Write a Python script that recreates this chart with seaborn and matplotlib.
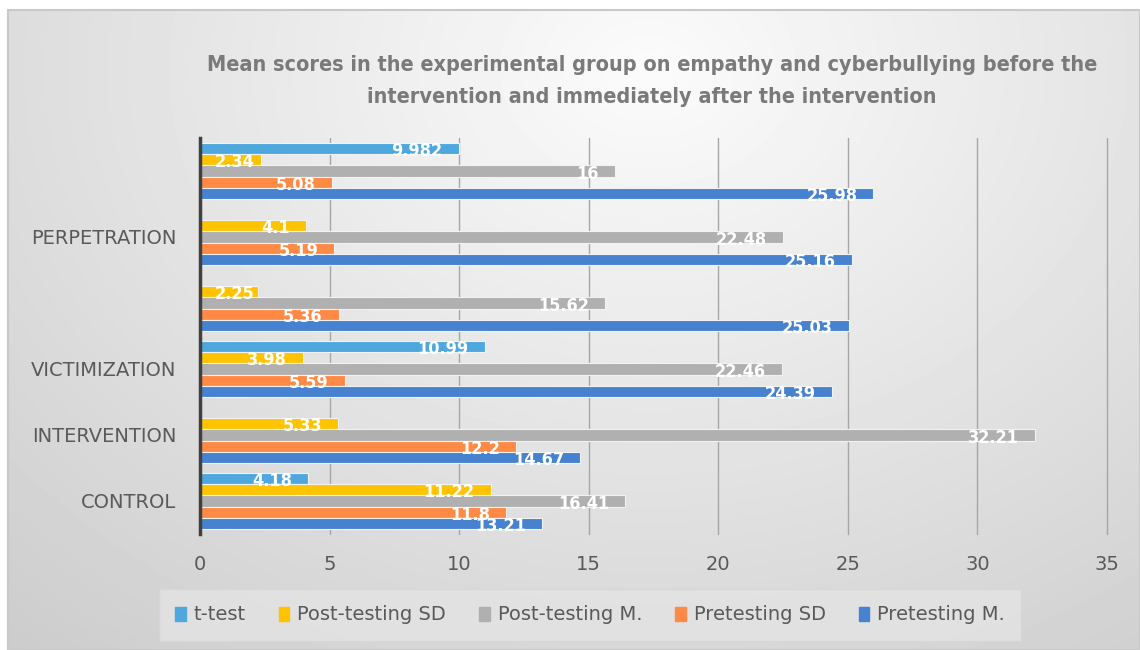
# Mean scores chart - horizontal grouped bars
import numpy as np
import pandas as pd
import seaborn as sns
import matplotlib.pyplot as plt

# Data (groups listed top to bottom)
groups = ['', 'PERPETRATION', ' ', 'VICTIMIZATION', 'INTERVENTION', 'CONTROL']
series = ['t-test', 'Post-testing SD', 'Post-testing M.', 'Pretesting SD', 'Pretesting M.']
t_test = [9.982, np.nan, np.nan, 10.99, np.nan, 4.18]
post_sd = [2.34, 4.1, 2.25, 3.98, 5.33, 11.22]
post_m = [16, 22.48, 15.62, 22.46, 32.21, 16.41]
pre_sd = [5.08, 5.19, 5.36, 5.59, 12.2, 11.8]
pre_m = [25.98, 25.16, 25.03, 24.39, 14.67, 13.21]
colors = ['#4ea8de', '#ffc300', '#b0b0b0', '#ff8a45', '#4682d0']

rows = []
for name, vals in zip(series, [t_test, post_sd, post_m, pre_sd, pre_m]):
    for g, v in zip(groups, vals):
        rows.append({'group': g, 'series': name, 'value': v})
df = pd.DataFrame(rows).dropna()

sns.set_style('white')
plt.rcParams['font.family'] = ['DejaVu Sans']

W, H = 1140, 650
fig = plt.figure(figsize=(W / 100, H / 100), dpi=100)

# gradient background panel
bg = fig.add_axes([8 / W, 0, 1 - 8 / W, 1 - 10 / H])
yy, xx = np.mgrid[0:640, 0:1132]
r = np.sqrt(((xx - 640) / 900) ** 2 + ((yy - 60) / 700) ** 2)
shade = np.clip(0.985 - 0.17 * r, 0.80, 0.985)
bg.imshow(shade, cmap='gray', vmin=0, vmax=1, aspect='auto')
bg.set_axis_off()
fig.patches.append(plt.Rectangle((8 / W, 0), 1 - 8 / W, 1 - 10 / H, transform=fig.transFigure,
                                 fill=False, edgecolor='#c8c8c8', linewidth=1.5))

ax = fig.add_axes([200 / W, 1 - 534 / H, 907 / W, 396 / H])
ax.patch.set_alpha(0)
sns.barplot(data=df, y='group', x='value', hue='series', hue_order=series, order=groups,
            palette=colors, orient='h', width=0.86, edgecolor='#f2f2f2', linewidth=0.8,
            saturation=1, ax=ax, legend=True)

ax.set_xlim(0, 35)
ax.set_xticks(range(0, 36, 5))
ax.set_xlabel('')
ax.set_ylabel('')
ax.grid(axis='x', color='#a6a6a6', linewidth=1)
for gl in ax.get_xgridlines():
    gl.set_clip_on(False)
ax.set_axisbelow(True)
for s in ['top', 'right', 'bottom']:
    ax.spines[s].set_visible(False)
ax.spines['left'].set_color('#404040')
ax.spines['left'].set_linewidth(2.5)
ax.tick_params(axis='both', length=0, labelcolor='#595959')
ax.tick_params(axis='x', pad=15, labelsize=14)
ax.tick_params(axis='y', pad=17, labelsize=14)

# data labels
px_per_unit = 907 / 35
texts = []
for cont in ax.containers:
    for bar in cont:
        v = bar.get_width()
        yc = bar.get_y() + bar.get_height() / 2
        t = ax.text(v - 16 / px_per_unit, yc, f'{v:g}', ha='right', va='center',
                    color='white', fontsize=13, fontweight='bold', fontstretch='condensed')
        texts.append(t)
fig.canvas.draw()
rend = fig.canvas.get_renderer()
ax_left = ax.get_window_extent(rend).x0
for t in texts:
    bb = t.get_window_extent(rend)
    if bb.x0 < ax_left + 15:
        shift = (ax_left + 15 - bb.x0) / px_per_unit
        x, y = t.get_position()
        t.set_position((x + shift, y))
    x, y = t.get_position()
    t.set_position((x, y + 0.04))

# legend
ax.legend_.remove()
handles = [plt.Rectangle((0, 0), 1, 1, color=c) for c in colors]
leg = fig.legend(handles, series, loc='center', bbox_to_anchor=(590 / W, 1 - 615 / H),
                 ncol=5, frameon=True, fontsize=14, handlelength=0.55, handleheight=0.75,
                 handletextpad=0.4, columnspacing=1.7, borderpad=0.55)
leg.get_frame().set_facecolor('#e4e4e4')
leg.get_frame().set_edgecolor('#d6d6d6')
leg.get_frame().set_boxstyle('square')
for tx in leg.get_texts():
    tx.set_color('#595959')

fig.text(652 / W, 1 - 81 / H,
         'Mean scores in the experimental group on empathy and cyberbullying before the\n'
         'intervention and immediately after the intervention',
         ha='center', va='center', fontsize=15.5, fontweight='bold', color='#7a7a7a',
         linespacing=1.75, fontstretch='condensed')

fig.savefig('out.png', dpi=100)
